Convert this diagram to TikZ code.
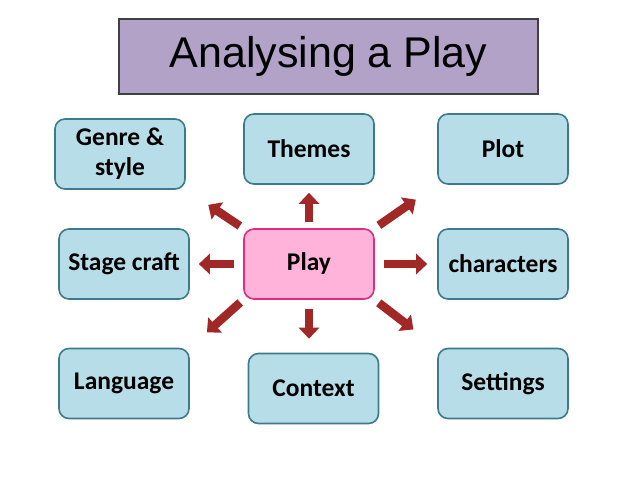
\documentclass[tikz,border=0pt]{standalone}
\usepackage{fontspec}
\usepackage{tikz}
\usetikzlibrary{arrows.meta, positioning}
\newfontfamily\boxfont{Carlito}
\newfontfamily\headfont{Liberation Sans}
\definecolor{topicfill}{RGB}{183,222,232}
\definecolor{topicline}{RGB}{62,122,142}
\definecolor{playfill}{RGB}{255,178,218}
\definecolor{playline}{RGB}{222,45,125}
\definecolor{headfill}{RGB}{179,162,199}
\definecolor{headline}{RGB}{64,64,64}
\definecolor{arrowred}{RGB}{162,40,40}

\begin{document}
\begin{tikzpicture}[x=1pt,y=-1pt,
		topicbox/.style={draw=topicline,fill=topicfill,line width=1.6pt,rounded corners=10pt,
			minimum width=130pt,minimum height=70pt,align=center,
			font=\boxfont\bfseries\fontsize{25.5}{30}\selectfont},
		playbox/.style={topicbox,draw=playline,fill=playfill},
		headbox/.style={draw=headline,fill=headfill,line width=1.2pt,
			minimum width=419pt,minimum height=75pt,font=\headfont\fontsize{43}{50}\selectfont},
		bigarrow/.style={draw=arrowred,line width=8.5pt,-{Triangle[width=20pt,length=11pt]}}]
			% page
			\fill[white] (0,0) rectangle (638,479);
			\useasboundingbox (0,0) rectangle (638,479);
			% title
			\node[headbox] (title) at (328.5,56.5) {Analysing a Play};
			% topics
			\node[topicbox] (genre) at (120,154) {Genre \&\\style};
			\node[topicbox] (themes) at (309,149) {Themes};
			\node[topicbox] (plot) at (503,149) {Plot};
			\node[topicbox] (stage) at (124,264) {Stage craft};
			\node[playbox] (play) at (309,264) {Play};
			\node[topicbox] (characters) at (503,264) {characters};
			\node[topicbox] (language) at (124,383.5) {Language};
			\node[topicbox] (context) at (313.5,388.5) {Context};
			\node[topicbox] (settings) at (503,383.5) {Settings};
			% straight arrows
			\draw[bigarrow,shorten <=6pt,shorten >=8pt] (play.north) -- (themes.south);
			\draw[bigarrow,shorten <=9pt,shorten >=14pt] (play.south) -- (play.south |- context.north);
			\draw[bigarrow,shorten <=9pt,shorten >=10pt] (play.east) -- (characters.west);
			\draw[bigarrow,shorten <=9pt,shorten >=9pt] (play.west) -- (stage.east);
			% diagonal arrows
			\draw[bigarrow,shorten <=4pt,shorten >=27pt] (play.north west) -- (genre.south east);
			\draw[bigarrow,shorten <=5pt,shorten >=26pt] (play.north east) -- (plot.south west);
			\draw[bigarrow,shorten <=4pt,shorten >=23pt] (play.south west) -- (language.north east);
			\draw[bigarrow,shorten <=5pt,shorten >=30pt] (play.south east) -- (settings.north west);
\end{tikzpicture}
\end{document}
